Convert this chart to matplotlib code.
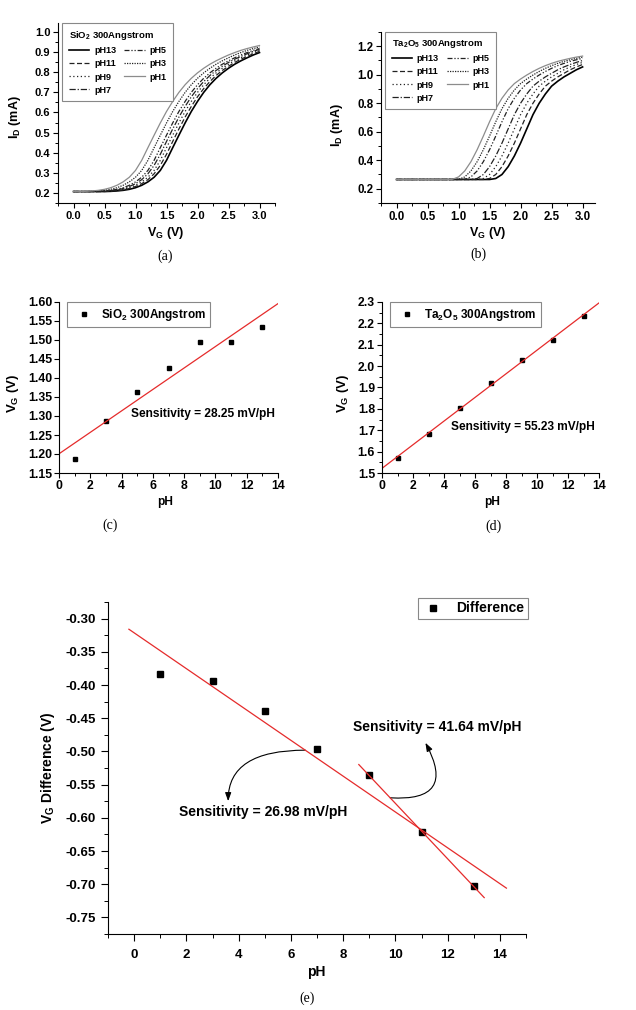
import matplotlib
matplotlib.use('Agg')
import numpy as np
import matplotlib.pyplot as plt
from matplotlib.ticker import MultipleLocator, FormatStrFormatter

plt.rcParams['font.family'] = ['Liberation Sans', 'DejaVu Sans']
plt.rcParams['font.weight'] = 'bold'
plt.rcParams['axes.labelweight'] = 'bold'
plt.rcParams['axes.unicode_minus'] = False
plt.rcParams['mathtext.fontset'] = 'custom'
plt.rcParams['mathtext.rm'] = 'Liberation Sans:bold'
plt.rcParams['mathtext.it'] = 'Liberation Sans:bold'
plt.rcParams['mathtext.bf'] = 'Liberation Sans:bold'
plt.rcParams['mathtext.default'] = 'rm'

# gate voltage sweep (V)
vg_sweep = [0.0, 0.1, 0.2, 0.3, 0.4, 0.5, 0.6, 0.7, 0.8, 0.9, 1.0,
            1.1, 1.2, 1.3, 1.4, 1.5, 1.6, 1.7, 1.8, 1.9, 2.0,
            2.1, 2.2, 2.3, 2.4, 2.5, 2.6, 2.7, 2.8, 2.9, 3.0]

curve_labels = ['pH13', 'pH11', 'pH9', 'pH7', 'pH5', 'pH3', 'pH1']

# SiO2 300A  I_D (mA)
sio2_ph13 = [0.207] * 6 + [0.208, 0.210, 0.213, 0.218, 0.226, 0.238, 0.255, 0.278, 0.312, 0.362, 0.425, 0.487, 0.548,
                           0.605, 0.655, 0.700, 0.738, 0.770, 0.797, 0.820, 0.840, 0.857, 0.872, 0.886, 0.898]
sio2_ph11 = [0.207] * 6 + [0.209, 0.211, 0.215, 0.222, 0.232, 0.246, 0.266, 0.295, 0.337, 0.392, 0.456, 0.518, 0.577,
                           0.630, 0.678, 0.719, 0.754, 0.784, 0.809, 0.830, 0.849, 0.865, 0.879, 0.892, 0.904]
sio2_ph9 = [0.207] * 5 + [0.208, 0.210, 0.213, 0.218, 0.226, 0.238, 0.255, 0.278, 0.312, 0.362, 0.425, 0.487, 0.548,
                          0.605, 0.655, 0.700, 0.738, 0.770, 0.797, 0.820, 0.840, 0.857, 0.872, 0.886, 0.898, 0.909]
sio2_ph7 = [0.207] * 5 + [0.209, 0.211, 0.215, 0.222, 0.232, 0.246, 0.266, 0.295, 0.337, 0.392, 0.456, 0.518, 0.577,
                          0.630, 0.678, 0.719, 0.754, 0.784, 0.809, 0.830, 0.849, 0.865, 0.879, 0.892, 0.904, 0.914]
sio2_ph5 = [0.207] * 4 + [0.208, 0.210, 0.213, 0.218, 0.226, 0.238, 0.255, 0.278, 0.312, 0.362, 0.425, 0.487, 0.548,
                          0.605, 0.655, 0.700, 0.738, 0.770, 0.797, 0.820, 0.840, 0.857, 0.872, 0.886, 0.898, 0.909,
                          0.918]
sio2_ph3 = [0.207] * 3 + [0.208, 0.210, 0.213, 0.218, 0.226, 0.238, 0.255, 0.278, 0.312, 0.362, 0.425, 0.487, 0.548,
                          0.605, 0.655, 0.700, 0.738, 0.770, 0.797, 0.820, 0.840, 0.857, 0.872, 0.886, 0.898, 0.909,
                          0.918, 0.926]
sio2_ph1 = [0.207] * 2 + [0.208, 0.210, 0.213, 0.218, 0.226, 0.238, 0.255, 0.278, 0.312, 0.362, 0.425, 0.487, 0.548,
                          0.605, 0.655, 0.700, 0.738, 0.770, 0.797, 0.820, 0.840, 0.857, 0.872, 0.886, 0.898, 0.909,
                          0.918, 0.926, 0.933]

# Ta2O5 300A  I_D (mA)
ta_ph13 = [0.265] * 16 + [0.272, 0.300, 0.355, 0.430, 0.520, 0.620, 0.720, 0.800, 0.865, 0.920, 0.955, 0.985, 1.010, 1.035, 1.055]
ta_ph11 = [0.265] * 15 + [0.272, 0.300, 0.355, 0.430, 0.520, 0.620, 0.720, 0.800, 0.865, 0.920, 0.955, 0.985, 1.010, 1.035, 1.055,
                          1.072]
ta_ph9 = [0.265] * 14 + [0.272, 0.300, 0.355, 0.430, 0.520, 0.620, 0.720, 0.800, 0.865, 0.920, 0.955, 0.985, 1.010, 1.035, 1.055,
                         1.072, 1.087]
ta_ph7 = [0.265] * 13 + [0.272, 0.300, 0.355, 0.430, 0.520, 0.620, 0.720, 0.800, 0.865, 0.920, 0.955, 0.985, 1.010, 1.035, 1.055,
                         1.072, 1.087, 1.100]
ta_ph5 = [0.265] * 11 + [0.266, 0.283, 0.325, 0.390, 0.474, 0.570, 0.670, 0.762, 0.835, 0.893, 0.938, 0.970, 0.998, 1.023, 1.045,
                         1.064, 1.080, 1.094, 1.105, 1.115]
ta_ph3 = [0.265] * 10 + [0.266, 0.283, 0.325, 0.390, 0.474, 0.570, 0.670, 0.762, 0.835, 0.893, 0.938, 0.970, 0.998, 1.023, 1.045,
                         1.064, 1.080, 1.094, 1.105, 1.115, 1.124]
ta_ph1 = [0.265] * 9 + [0.266, 0.283, 0.325, 0.390, 0.474, 0.570, 0.670, 0.762, 0.835, 0.893, 0.938, 0.970, 0.998, 1.023, 1.045,
                        1.064, 1.080, 1.094, 1.105, 1.115, 1.124, 1.131]

# V_G at reference current vs pH
ph = [1, 3, 5, 7, 9, 11, 13]
vg_sio2 = [1.188, 1.288, 1.363, 1.425, 1.495, 1.495, 1.533]
vg_ta = [1.570, 1.683, 1.803, 1.920, 2.030, 2.120, 2.235]
vg_diff = [-0.383, -0.394, -0.439, -0.496, -0.536, -0.621, -0.703]

line_styles = [
    dict(color='black', lw=1.2, ls='-'),
    dict(color='#222222', lw=0.9, ls=(0, (4, 2))),
    dict(color='#222222', lw=0.9, ls=(0, (1, 2))),
    dict(color='#222222', lw=0.9, ls=(0, (5, 1.5, 1, 1.5))),
    dict(color='#222222', lw=0.9, ls=(0, (4, 1.5, 1, 1.5, 1, 1.5))),
    dict(color='#222222', lw=0.9, ls=(0, (1, 1))),
    dict(color='#8c8c8c', lw=0.9, ls='-'),
]
RED = '#e52b2b'
W, H = 636, 1010

fig = plt.figure(figsize=(W / 100, H / 100), dpi=100)


def px_axes(l, t, r, b):
    return fig.add_axes([l / W, 1 - b / H, (r - l) / W, (b - t) / H])


def px_text(x, y, s, **kw):
    fig.text(x / W, 1 - y / H, s, ha='center', va='center', **kw)


def style_axes(ax, fs, major_len=3.5, minor_len=2.0, pad=2.0):
    ax.spines['top'].set_visible(False)
    ax.spines['right'].set_visible(False)
    for sp in ('left', 'bottom'):
        ax.spines[sp].set_linewidth(0.8)
    ax.tick_params(which='major', direction='out', length=major_len, width=0.8,
                   labelsize=fs, pad=pad)
    ax.tick_params(which='minor', direction='out', length=minor_len, width=0.7)


def caption(x, y, s):
    px_text(x, y, s, fontsize=10, family='Liberation Serif', fontweight='normal')


def iv_legend(ax, title):
    leg = ax.legend(ncol=2, loc='upper left', bbox_to_anchor=(0.02, 1.0), borderaxespad=0,
                    title=title, alignment='left', fontsize=6.5,
                    title_fontproperties={'weight': 'bold', 'size': 6.8},
                    fancybox=False, edgecolor='#888888', framealpha=1,
                    handlelength=2.3, handletextpad=0.5, columnspacing=0.9,
                    labelspacing=0.45, borderpad=0.7)
    leg.get_frame().set_linewidth(0.8)


def point_legend(ax, anchor, fs, hl, tp, bp):
    leg = ax.legend(loc=anchor[0], bbox_to_anchor=anchor[1], borderaxespad=0, fontsize=fs,
                    fancybox=False, edgecolor='#888888', framealpha=1, numpoints=1,
                    handlelength=hl, handletextpad=tp, borderpad=bp)
    leg.get_frame().set_linewidth(0.8)


# (a) SiO2 I-V
ax_a = px_axes(58, 23, 275, 203)
sio2_curves = [sio2_ph13, sio2_ph11, sio2_ph9, sio2_ph7, sio2_ph5, sio2_ph3, sio2_ph1]
for lab, ys, st in zip(curve_labels, sio2_curves, line_styles):
    ax_a.plot(vg_sweep, ys, label=lab, **st)
ax_a.set_xlim(-0.25, 3.25)
ax_a.set_ylim(0.15, 1.045)
ax_a.xaxis.set_major_locator(MultipleLocator(0.5))
ax_a.xaxis.set_minor_locator(MultipleLocator(0.25))
ax_a.yaxis.set_major_locator(MultipleLocator(0.1))
ax_a.yaxis.set_minor_locator(MultipleLocator(0.05))
ax_a.xaxis.set_major_formatter(FormatStrFormatter('%.1f'))
ax_a.yaxis.set_major_formatter(FormatStrFormatter('%.1f'))
style_axes(ax_a, 8)
iv_legend(ax_a, 'SiO$_2$ 300Angstrom')
px_text(166, 233, 'V$_G$ (V)', fontsize=9)
px_text(15, 117, 'I$_D$ (mA)', fontsize=9, rotation=90)
caption(165, 256, '(a)')

# (b) Ta2O5 I-V
ax_b = px_axes(381, 32, 595, 203)
ta_curves = [ta_ph13, ta_ph11, ta_ph9, ta_ph7, ta_ph5, ta_ph3, ta_ph1]
for lab, ys, st in zip(curve_labels, ta_curves, line_styles):
    ax_b.plot(vg_sweep, ys, label=lab, **st)
ax_b.set_xlim(-0.25, 3.2)
ax_b.set_ylim(0.1, 1.3)
ax_b.xaxis.set_major_locator(MultipleLocator(0.5))
ax_b.xaxis.set_minor_locator(MultipleLocator(0.25))
ax_b.yaxis.set_major_locator(MultipleLocator(0.2))
ax_b.yaxis.set_minor_locator(MultipleLocator(0.1))
ax_b.xaxis.set_major_formatter(FormatStrFormatter('%.1f'))
ax_b.yaxis.set_major_formatter(FormatStrFormatter('%.1f'))
style_axes(ax_b, 8.3)
iv_legend(ax_b, 'Ta$_2$O$_5$ 300Angstrom')
px_text(488, 233, 'V$_G$ (V)', fontsize=9)
px_text(337, 125, 'I$_D$ (mA)', fontsize=9, rotation=90)
caption(478, 254, '(b)')

# (c) SiO2 sensitivity
ax_c = px_axes(59, 302, 278, 473)
ax_c.plot(ph, vg_sio2, 's', color='black', ms=2.2, label='SiO$_2$ 300Angstrom')
k, b0 = np.polyfit(ph, vg_sio2, 1)
xs = np.array([0, 14])
ax_c.plot(xs, k * xs + b0, color=RED, lw=0.9)
ax_c.set_xlim(0, 14)
ax_c.set_ylim(1.15, 1.60)
ax_c.xaxis.set_major_locator(MultipleLocator(2))
ax_c.xaxis.set_minor_locator(MultipleLocator(1))
ax_c.yaxis.set_major_locator(MultipleLocator(0.05))
ax_c.yaxis.set_major_formatter(FormatStrFormatter('%.2f'))
style_axes(ax_c, 8.8, pad=1.5)
point_legend(ax_c, ('upper left', (0.037, 1.0)), 8.5, 2.0, 0.45, 0.4)
ax_c.text(4.6, 1.305, 'Sensitivity = 28.25 mV/pH', fontsize=8.6, va='center', ha='left')
px_text(165, 502, 'pH', fontsize=8.6)
px_text(13, 393, 'V$_G$ (V)', fontsize=9.5, rotation=90)
caption(110, 525, '(c)')

# (d) Ta2O5 sensitivity
ax_d = px_axes(382, 302, 599, 473)
ax_d.plot(ph, vg_ta, 's', color='black', ms=2.2, label='Ta$_2$O$_5$ 300Angstrom')
k, b0 = np.polyfit(ph, vg_ta, 1)
ax_d.plot(xs, k * xs + b0, color=RED, lw=0.9)
ax_d.set_xlim(0, 14)
ax_d.set_ylim(1.5, 2.3)
ax_d.xaxis.set_major_locator(MultipleLocator(2))
ax_d.xaxis.set_minor_locator(MultipleLocator(1))
ax_d.yaxis.set_major_locator(MultipleLocator(0.1))
ax_d.yaxis.set_minor_locator(MultipleLocator(0.05))
ax_d.yaxis.set_major_formatter(FormatStrFormatter('%.1f'))
style_axes(ax_d, 8.8, pad=1.5)
point_legend(ax_d, ('upper left', (0.037, 1.0)), 8.5, 2.0, 0.45, 0.4)
ax_d.text(4.45, 1.715, 'Sensitivity = 55.23 mV/pH', fontsize=8.6, va='center', ha='left')
px_text(492, 502, 'pH', fontsize=8.6)
px_text(343, 393, 'V$_G$ (V)', fontsize=9.5, rotation=90)
caption(493, 526, '(d)')

# (e) difference
ax_e = px_axes(108, 602, 526, 934)
ax_e.plot(ph, vg_diff, 's', color='black', ms=4.5, label='Difference', zorder=3)
k1, b1 = np.polyfit(ph, vg_diff, 1)
x1 = np.array([-0.2, 14.25])
ax_e.plot(x1, k1 * x1 + b1, color=RED, lw=0.9, zorder=4)
k2, b2 = np.polyfit(ph[4:], vg_diff[4:], 1)
x2 = np.array([8.6, 13.4])
ax_e.plot(x2, k2 * x2 + b2, color=RED, lw=0.9, zorder=4)
ax_e.set_xlim(-1, 15)
ax_e.set_ylim(-0.775, -0.275)
ax_e.xaxis.set_major_locator(MultipleLocator(2))
ax_e.xaxis.set_minor_locator(MultipleLocator(1))
ax_e.yaxis.set_major_locator(MultipleLocator(0.05))
ax_e.yaxis.set_minor_locator(MultipleLocator(0.025))
ax_e.yaxis.set_major_formatter(FormatStrFormatter('%.2f'))
style_axes(ax_e, 9.5, major_len=5, minor_len=3, pad=3.5)
ax_e.tick_params(axis='x', which='major', pad=6)
point_legend(ax_e, ('upper right', (1.005, 1.012)), 10, 1.6, 0.9, 0.25)
ax_e.text(8.36, -0.4627, 'Sensitivity = 41.64 mV/pH', fontsize=10, va='center', ha='left')
ax_e.text(1.72, -0.592, 'Sensitivity = 26.98 mV/pH', fontsize=10, va='center', ha='left')
ax_e.annotate('', xy=(3.6, -0.575), xytext=(6.55, k1 * 6.55 + b1),
              arrowprops=dict(arrowstyle='-|>,head_length=0.5,head_width=0.18', color='black', lw=0.8,
                              shrinkA=0, shrinkB=0, connectionstyle='angle3,angleA=0,angleB=90'))
ax_e.annotate('', xy=(11.15, -0.487), xytext=(9.8, k2 * 9.8 + b2),
              arrowprops=dict(arrowstyle='-|>,head_length=0.5,head_width=0.18', color='black', lw=0.8,
                              shrinkA=0, shrinkB=0, connectionstyle='arc3,rad=0.9'))
px_text(316, 972, 'pH', fontsize=10)
px_text(48, 768, 'V$_G$ Difference (V)', fontsize=10, rotation=90)
caption(307, 998, '(e)')

fig.savefig('out.png', dpi=100)
